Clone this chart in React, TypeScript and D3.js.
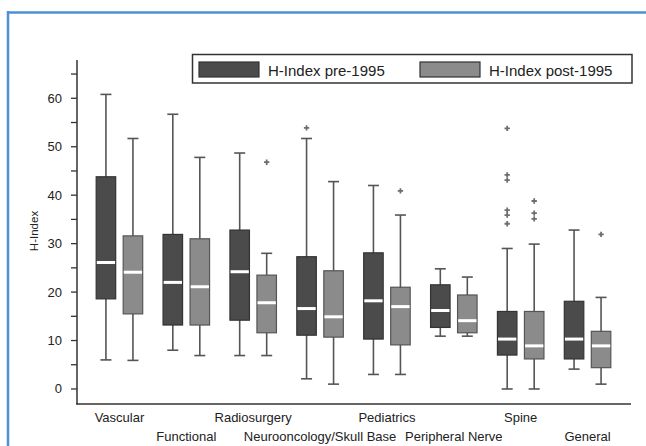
import React, { useEffect, useRef } from "react";
import * as d3 from "d3";

// categories, bottom labels alternate between two rows
const categories = [
  "Vascular", "Functional", "Radiosurgery", "Neurooncology/Skull Base",
  "Pediatrics", "Peripheral Nerve", "Spine", "General",
];

// [low whisker, Q1, median, Q3, high whisker]
const preStats = [
  [6, 18.6, 26.1, 43.8, 60.8],
  [8, 13.2, 22, 31.9, 56.7],
  [6.9, 14.2, 24.2, 32.8, 48.7],
  [2.1, 11.1, 16.6, 27.3, 51.7],
  [3, 10.3, 18.2, 28.1, 42],
  [10.9, 12.7, 16.2, 21.5, 24.8],
  [0, 7, 10.3, 16, 29],
  [4.1, 6.2, 10.3, 18.1, 32.8],
];
const postStats = [
  [5.9, 15.5, 24.1, 31.6, 51.7],
  [6.9, 13.2, 21.1, 31, 47.8],
  [6.9, 11.6, 17.8, 23.5, 28],
  [1, 10.7, 14.9, 24.4, 42.8],
  [3, 9.1, 17, 21, 35.9],
  [10.9, 11.6, 14.1, 19.4, 23.1],
  [0, 6.2, 8.9, 16, 29.9],
  [1, 4.4, 8.9, 11.9, 18.9],
];
const preOutliers = [[], [], [], [53.9], [], [], [53.8, 44.2, 43.1, 36.9, 35.9, 34.1], []];
const postOutliers = [[], [], [46.8], [], [40.9], [], [38.8, 36.3, 35.1], [31.9]];

const majorTicks = [0, 10, 20, 30, 40, 50, 60];
const minorTicks = [5, 15, 25, 35, 45, 55, 65];
const seriesNames = ["H-Index pre-1995", "H-Index post-1995"];

const W = 646, H = 446;
const font = "'Liberation Sans', Arial, sans-serif";

export default function App() {
  const ref = useRef<SVGSVGElement>(null);

  useEffect(() => {
    const svg = d3.select(ref.current);
    svg.selectAll("*").remove();

    // blue frame (top + left edges)
    svg.append("line").attr("x1", 7).attr("x2", W).attr("y1", 12.5).attr("y2", 12.5)
      .attr("stroke", "#4f8fd4").attr("stroke-width", 2.5);
    svg.append("line").attr("x1", 8).attr("x2", 8).attr("y1", 11).attr("y2", H)
      .attr("stroke", "#4f8fd4").attr("stroke-width", 2.5);

    const y = d3.scaleLinear().domain([-3.1, 67.9]).range([404, 60]);
    const x = d3.scaleBand().domain(categories).range([86, 621]);
    const boxW = 19.5, off = 13.5, capW = 11;
    const fills = ["#4b4b4b", "#8b8b8b"];
    const strokes = ["#333", "#555"];

    // axes
    const axisX = 77;
    svg.append("line").attr("x1", axisX).attr("x2", axisX).attr("y1", 60).attr("y2", 404.5)
      .attr("stroke", "#333").attr("stroke-width", 1.5);
    svg.append("line").attr("x1", axisX - 0.7).attr("x2", 631).attr("y1", 404).attr("y2", 404)
      .attr("stroke", "#333").attr("stroke-width", 1.5);

    svg.selectAll(".tick").data([...majorTicks, ...minorTicks]).join("line")
      .attr("x1", axisX - 6).attr("x2", axisX).attr("y1", (d) => y(d)).attr("y2", (d) => y(d))
      .attr("stroke", "#333").attr("stroke-width", 1.3);
    svg.selectAll(".ticklabel").data(majorTicks).join("text")
      .attr("x", 62).attr("y", (d) => y(d) + 4.5).attr("text-anchor", "end")
      .attr("font-family", font).attr("font-size", 13).attr("fill", "#222")
      .text((d) => d);

    svg.append("text").attr("transform", "translate(37.5,231) rotate(-90)")
      .attr("text-anchor", "middle").attr("font-family", font).attr("font-size", 11.5)
      .attr("fill", "#222").text("H-Index");

    // category labels, alternating rows
    svg.selectAll(".cat").data(categories).join("text")
      .attr("x", (d) => x(d)! + x.bandwidth() / 2)
      .attr("y", (_, i) => (i % 2 === 0 ? 421.5 : 440.5))
      .attr("text-anchor", "middle").attr("font-family", font).attr("font-size", 13)
      .attr("fill", "#222").text((d) => d);

    // boxes
    [preStats, postStats].forEach((stats, s) => {
      const g = svg.append("g");
      stats.forEach((st, i) => {
        const cx = x(categories[i])! + x.bandwidth() / 2 + (s === 0 ? -off : off);
        const [lo, q1, med, q3, hi] = st;
        g.append("line").attr("x1", cx).attr("x2", cx).attr("y1", y(hi)).attr("y2", y(lo))
          .attr("stroke", "#555").attr("stroke-width", 1.6);
        [lo, hi].forEach((v) => {
          g.append("line").attr("x1", cx - capW / 2).attr("x2", cx + capW / 2)
            .attr("y1", y(v)).attr("y2", y(v)).attr("stroke", "#555").attr("stroke-width", 1.6);
        });
        g.append("rect").attr("x", cx - boxW / 2).attr("y", y(q3))
          .attr("width", boxW).attr("height", y(q1) - y(q3))
          .attr("fill", fills[s]).attr("stroke", strokes[s]).attr("stroke-width", 1.2);
        g.append("line").attr("x1", cx - boxW / 2 + 0.6).attr("x2", cx + boxW / 2 - 0.6)
          .attr("y1", y(med)).attr("y2", y(med)).attr("stroke", "#fff").attr("stroke-width", 3);
      });
    });

    // outliers
    const sym = d3.symbol(d3.symbolCross, 16);
    [preOutliers, postOutliers].forEach((outs, s) => {
      outs.forEach((vals, i) => {
        const cx = x(categories[i])! + x.bandwidth() / 2 + (s === 0 ? -off : off);
        vals.forEach((v) => {
          svg.append("path").attr("d", sym()!).attr("transform", `translate(${cx},${y(v)})`)
            .attr("fill", "#6e6e6e");
        });
      });
    });

    // legend
    svg.append("rect").attr("x", 192.5).attr("y", 54.5).attr("width", 439.5).attr("height", 28.5)
      .attr("fill", "#fff").attr("stroke", "#333").attr("stroke-width", 1.5);
    const legendX = [199, 420];
    seriesNames.forEach((name, s) => {
      svg.append("rect").attr("x", legendX[s]).attr("y", 62).attr("width", 60).attr("height", 15)
        .attr("fill", fills[s]).attr("stroke", "#333").attr("stroke-width", 1.2);
      svg.append("text").attr("x", legendX[s] + 69).attr("y", 75.5)
        .attr("font-family", font).attr("font-size", 15).attr("fill", "#222").text(name);
    });
  }, []);

  return (
    <svg ref={ref} width={W} height={H}
      style={{ position: "absolute", left: 0, top: 0, background: "#fff" }} />
  );
}
